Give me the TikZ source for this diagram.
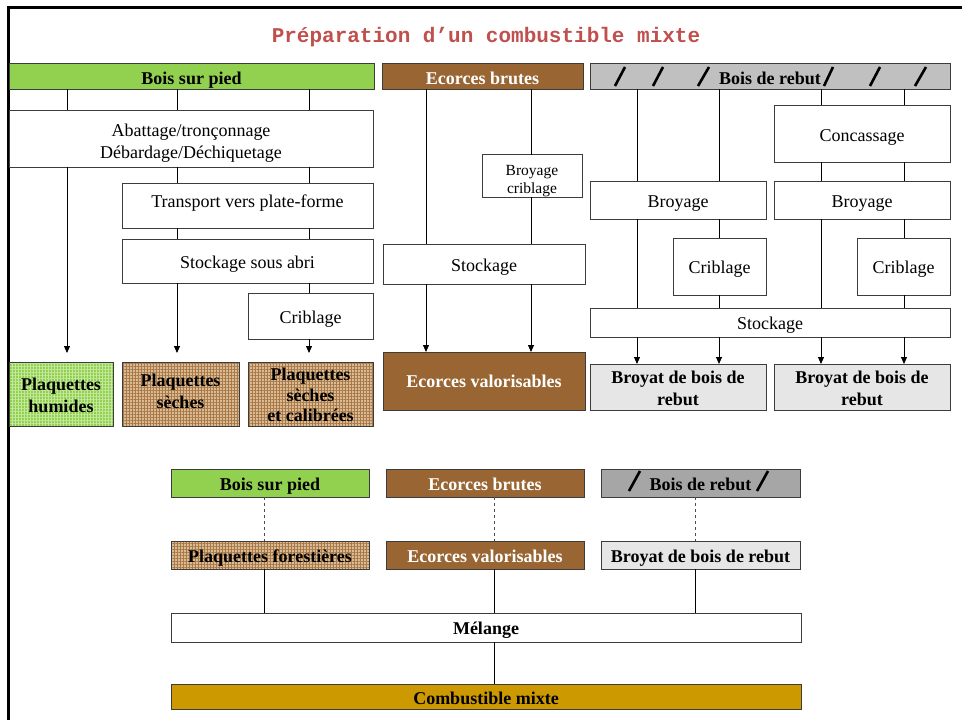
\documentclass[tikz,border=0pt]{standalone}
\usepackage{fontspec}
\setmainfont{Liberation Serif}
\newfontfamily\titlefont{Liberation Mono}
\usetikzlibrary{arrows.meta,patterns.meta}
\definecolor{grn}{RGB}{146,208,80}
\definecolor{brn}{RGB}{153,102,51}
\definecolor{gry}{RGB}{192,192,192}
\definecolor{gryd}{RGB}{166,166,166}
\definecolor{gryl}{RGB}{230,230,230}
\definecolor{gold}{RGB}{204,153,0}
\definecolor{ttl}{RGB}{192,80,77}
\definecolor{bord}{RGB}{60,60,60}
\definecolor{tanc}{RGB}{218,188,148}
\definecolor{brnp}{RGB}{168,120,72}
\definecolor{grnl}{RGB}{196,232,158}
% [text height][text depth]{name}{style}{x1}{y1}{x2}{y2}{text}
\NewDocumentCommand\mkbox{O{18.5}O{4.5}mmmmmmm}{\node[#4, minimum width={(#7)-(#5)}, minimum height={(#8)-(#6)}] (#3) at ({((#5)+(#7))/2},{((#6)+(#8))/2}) {\rule{0pt}{#1pt}#9\rule[-#2pt]{0pt}{0pt}};}
\begin{document}
\begin{tikzpicture}[x=1pt,y=-1pt,
  box/.style={draw=bord, line width=0.9pt, inner sep=0pt, outer sep=0pt, align=center, fill=white, font=\fontsize{18}{22}\selectfont},
  bbox/.style={box, font=\fontsize{18}{22}\selectfont\bfseries},
  greenbox/.style={bbox, fill=grn},
  brownbox/.style={bbox, fill=brn, text=white},
  graybox/.style={bbox, fill=gry},
  lgraybox/.style={bbox, fill=gryl},
  pgreen/.style={bbox, fill=grn,
    postaction={pattern={Lines[distance=3pt,angle=0,line width=0.6pt]}, pattern color=grnl},
    postaction={pattern={Lines[distance=3pt,angle=90,line width=0.6pt]}, pattern color=grnl},
    postaction={draw=bord, line width=0.9pt}},
  pbrown/.style={bbox, fill=tanc,
    postaction={pattern={Lines[distance=3pt,angle=0,line width=0.7pt]}, pattern color=brnp},
    postaction={pattern={Lines[distance=3pt,angle=90,line width=0.7pt]}, pattern color=brnp},
    postaction={draw=bord, line width=0.9pt}},
  conn/.style={line width=0.9pt, draw=black},
  arr/.style={conn, -{Triangle[length=7pt,width=6pt]}},
  dsh/.style={line width=0.9pt, draw=black!70, dash pattern=on 3pt off 3pt},
  slash/.style={line width=2.6pt, line cap=butt}
]
\useasboundingbox (0,0) rectangle (962,720);
% frame
\draw[line width=3pt] (8,720) -- (8,7.5) -- (962,7.5);
% title
\node[font=\titlefont\bfseries\fontsize{21}{24}\selectfont, text=ttl, inner sep=0pt] (title) at (486,37) {Préparation d’un combustible mixte};

% column references
\coordinate (c1) at (67,0);  \coordinate (c2) at (177,0); \coordinate (c3) at (309,0);
\coordinate (e1) at (426,0); \coordinate (e2) at (531,0);
\coordinate (r1) at (637,0); \coordinate (r2) at (719,0); \coordinate (r3) at (821,0); \coordinate (r4) at (904,0);
\coordinate (l1) at (264,0); \coordinate (l2) at (494,0); \coordinate (l3) at (695,0);

% ===== top section =====
\mkbox[20.5]{bsp}{greenbox}{9}{63}{374}{89}{Bois sur pied}
\mkbox[20.5]{ecb}{brownbox}{382}{63}{583}{89}{Ecorces brutes}
\mkbox[20.5]{bdr}{graybox}{590}{63}{950}{89}{Bois de rebut}
\foreach \a/\b in {615/625,653/663,698/709,824/833,870/880,915/926}
  \draw[slash] (\a,86) -- (\b,67);

\mkbox[21.5]{abat}{box}{9}{110}{373}{167}{Abattage/tronçonnage\\Débardage/Déchiquetage}
\mkbox[12.3][9.3]{transp}{box}{122}{183}{373}{228}{Transport vers plate-forme}
\mkbox{stabri}{box}{122}{239}{373}{283}{Stockage sous abri}
\mkbox{crib1}{box}{248}{293}{373}{339}{Criblage}
\mkbox{phum}{pgreen}{9}{362}{113}{426}{Plaquettes\\humides}
\mkbox[12.3][6.3]{psec}{pbrown}{122}{362}{239}{426}{Plaquettes\\sèches}
\mkbox{pcal}{pbrown, font=\fontsize{18}{20.5}\selectfont\bfseries}{248}{362}{373}{426}{Plaquettes\\sèches\\et calibrées}

\mkbox[20.2][4]{broycrib}{box, font=\fontsize{15.5}{18}\selectfont}{482}{157}{582}{195}{Broyage\\criblage}
\mkbox{stock2}{box}{383}{244}{585}{284}{Stockage}
\mkbox[16.5]{ecval}{brownbox}{383}{352}{585}{410}{Ecorces valorisables}

\mkbox[19.5]{conc}{box}{774}{105}{950}{162}{Concassage}
\mkbox{broy1}{box}{590}{181}{766}{219}{Broyage}
\mkbox{broy2}{box}{774}{181}{950}{219}{Broyage}
\mkbox{crib2}{box}{673}{238}{766}{295}{Criblage}
\mkbox{crib3}{box}{857}{238}{950}{295}{Criblage}
\mkbox{stock3}{box}{590}{308}{950}{337}{Stockage}
\mkbox[19.5]{bb1}{lgraybox}{590}{364}{766}{410}{Broyat de bois de\\rebut}
\mkbox[19.5]{bb2}{lgraybox}{774}{364}{950}{410}{Broyat de bois de\\rebut}

% connectors top-left
\foreach \c in {c1,c2,c3} \draw[conn] (bsp.south -| \c) -- (abat.north -| \c);
\draw[arr, shorten >=9pt] (abat.south -| c1) -- (phum.north -| c1);
\foreach \c in {c2,c3} \draw[conn] (abat.south -| \c) -- (transp.north -| \c);
\foreach \c in {c2,c3} \draw[conn] (transp.south -| \c) -- (stabri.north -| \c);
\draw[arr, shorten >=9pt] (stabri.south -| c2) -- (psec.north -| c2);
\draw[conn] (stabri.south -| c3) -- (crib1.north -| c3);
\draw[arr, shorten >=9pt] (crib1.south -| c3) -- (pcal.north -| c3);

% connectors ecorces
\draw[conn] (ecb.south -| e1) -- (stock2.north -| e1);
\draw[conn] (ecb.south -| e2) -- (broycrib.north -| e2);
\draw[conn] (broycrib.south -| e2) -- (stock2.north -| e2);
\foreach \c in {e1,e2} \draw[arr] (stock2.south -| \c) -- (ecval.north -| \c);

% connectors bois de rebut
\foreach \c in {r1,r2} \draw[conn] (bdr.south -| \c) -- (broy1.north -| \c);
\foreach \c in {r3,r4} \draw[conn] (bdr.south -| \c) -- (conc.north -| \c);
\foreach \c in {r3,r4} \draw[conn] (conc.south -| \c) -- (broy2.north -| \c);
\draw[conn] (broy1.south -| r1) -- (stock3.north -| r1);
\draw[conn] (broy1.south -| r2) -- (crib2.north -| r2);
\draw[conn] (crib2.south -| r2) -- (stock3.north -| r2);
\draw[conn] (broy2.south -| r3) -- (stock3.north -| r3);
\draw[conn] (broy2.south -| r4) -- (crib3.north -| r4);
\draw[conn] (crib3.south -| r4) -- (stock3.north -| r4);
\foreach \c in {r1,r2} \draw[arr] (stock3.south -| \c) -- (bb1.north -| \c);
\foreach \c in {r3,r4} \draw[arr] (stock3.south -| \c) -- (bb2.north -| \c);

% ===== lower section =====
\mkbox{lbsp}{greenbox}{171}{469}{369}{497}{Bois sur pied}
\mkbox{lecb}{brownbox}{386}{469}{584}{497}{Ecorces brutes}
\mkbox{lbdr}{bbox, fill=gryd}{601}{469}{800}{497}{Bois de rebut}
\draw[slash] (629,491) -- (640,471);
\draw[slash] (757,491) -- (768,471);
\mkbox{lplaq}{pbrown}{171}{541}{369}{569}{Plaquettes forestières}
\mkbox{lecv}{brownbox}{386}{541}{584}{569}{Ecorces valorisables}
\mkbox{lbroy}{lgraybox}{601}{541}{800}{569}{Broyat de bois de rebut}
\mkbox{mel}{bbox}{171}{613}{801}{642}{Mélange}
\mkbox[19.5]{comb}{bbox, fill=gold}{171}{684}{801}{709}{Combustible mixte}

\draw[dsh] (lbsp.south -| l1) -- (lplaq.north -| l1);
\draw[dsh] (lecb.south -| l2) -- (lecv.north -| l2);
\draw[dsh] (lbdr.south -| l3) -- (lbroy.north -| l3);
\draw[conn] (lplaq.south -| l1) -- (mel.north -| l1);
\draw[conn] (lecv.south -| l2) -- (mel.north -| l2);
\draw[conn] (lbroy.south -| l3) -- (mel.north -| l3);
\draw[conn] (mel.south -| l2) -- (comb.north -| l2);
\end{tikzpicture}
\end{document}
